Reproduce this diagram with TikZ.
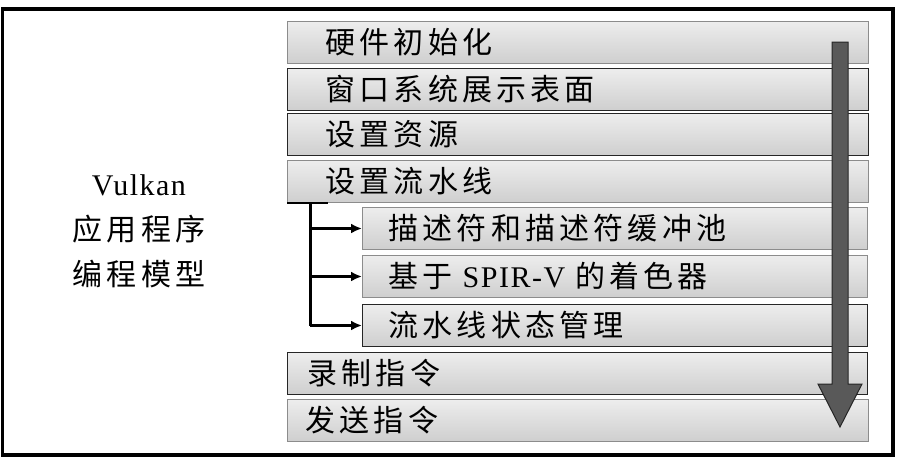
\documentclass[tikz,border=0pt]{standalone}
\usepackage{fontspec}
\setmainfont{Liberation Serif}[LetterSpace=5]
\newfontfamily\cjk{Noto Sans CJK SC}[LetterSpace=14]
\usepackage{tikz}
\usetikzlibrary{arrows.meta, positioning, calc}
\tikzset{
	stagebox/.style={draw=black!45, line width=1pt, top color=black!7, bottom color=black!19,
		minimum height=42pt, inner ysep=0pt, anchor=north west, align=left,
		font=\cjk\fontsize{30}{30}\selectfont},
	darkedge/.style={draw=black!85},
	mainbox/.style={stagebox, inner xsep=38pt, text width=505pt},
	subbox/.style={stagebox, inner xsep=26pt, text width=453pt},
	branch/.style={line width=3pt, -{Latex[length=11pt,width=10pt]}}
}

\begin{document}
\begin{tikzpicture}[x=1pt,y=-1pt]
\useasboundingbox (0,0) rectangle (898,463);
\draw[line width=3.5pt] (2.5,9) rectangle (893,455);
% left label
\node[align=center, font=\fontsize{30}{45}\selectfont] (title) at (139,231)
	{Vulkan\\{\cjk 应用程序}\\{\cjk 编程模型}};
% stages
\node[mainbox] (hw) at (287,21) {硬件初始化};
\node[mainbox, darkedge] (wsi) at (287,68) {窗口系统展示表面};
\node[mainbox, darkedge] (res) at (287,113) {设置资源};
\node[mainbox] (pipe) at (287,160) {设置流水线};
\node[subbox] (desc) at (362,207) {描述符和描述符缓冲池};
\node[subbox] (spirv) at (362,255) {基于 {\rmfamily SPIR-V} 的着色器};
\node[subbox, darkedge] (pstate) at (362,304) {流水线状态管理};
\node[stagebox, darkedge, inner xsep=20pt, text width=540pt] (rec) at (287,352) {录制指令};
\node[stagebox, inner xsep=18pt, text width=545pt] (submit) at (287,399) {发送指令};
% flow arrow
\filldraw[fill=black!65, draw=black!85, line width=1pt] (832,42) -- (848,42) -- (848,384) -- (862,384)
	-- (840,427) -- (818,384) -- (832,384) -- cycle;
% pipeline branches
\coordinate (trunk) at ($(pipe.south west)+(23,0)$);
\coordinate (tick) at ($(pipe.south west)+(41,0)$);
\draw[line width=2pt] (pipe.south west) -- (tick);
\draw[line width=3pt] (trunk) -- (trunk |- pstate.west);
\foreach \S in {desc, spirv, pstate}
	\draw[branch] (trunk |- \S.west) -- (\S.west);
\end{tikzpicture}
\end{document}
